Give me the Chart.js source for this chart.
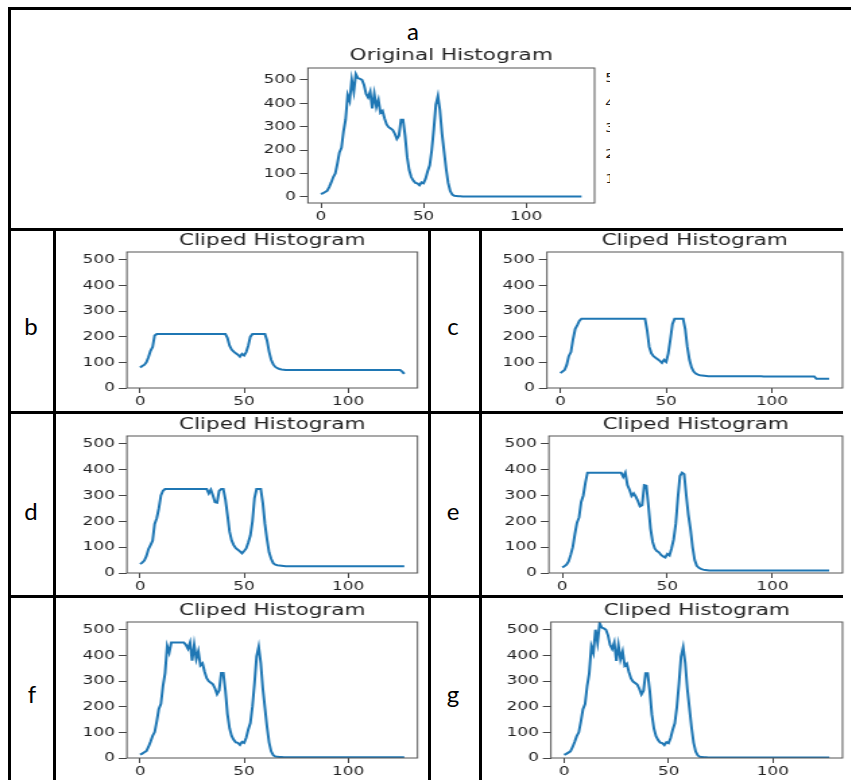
<!DOCTYPE html>
<html>
<head>
<meta charset="utf-8">
<script src="https://cdn.jsdelivr.net/npm/chart.js@4.4.1/dist/chart.umd.min.js"></script>
<style>
  body { margin: 0; background: #fff; width: 851px; height: 780px; position: relative; overflow: hidden; }
  .rule { position: absolute; background: #000; }
  .tag { position: absolute; font-family: Lato, 'Liberation Sans', sans-serif; font-size: 24px; color: #000; transform: translate(-50%, -50%); }
  .cut { position: absolute; left: 605px; top: 60px; width: 5px; height: 130px; overflow: hidden; }
  .cut span { position: absolute; left: 0; font-family: 'DejaVu Sans'; font-size: 12.5px; color: #222; transform: translateY(-50%) scaleX(1.35); transform-origin: left center; }
  canvas { position: absolute; }
</style>
</head>
<body>

<!-- table rules -->
<div class="rule" style="left:8px;top:7px;width:843px;height:3px"></div>
<div class="rule" style="left:8px;top:7px;width:3px;height:773px"></div>
<div class="rule" style="left:8px;top:228px;width:835px;height:3px"></div>
<div class="rule" style="left:8px;top:411px;width:835px;height:3px"></div>
<div class="rule" style="left:8px;top:595px;width:835px;height:3px"></div>
<div class="rule" style="left:53px;top:228px;width:3px;height:552px"></div>
<div class="rule" style="left:428px;top:228px;width:3px;height:552px"></div>
<div class="rule" style="left:479px;top:228px;width:3px;height:552px"></div>

<div class="tag" style="left:413px;top:30px">a</div>
<div class="tag" style="left:31px;top:325px">b</div>
<div class="tag" style="left:453px;top:325px">c</div>
<div class="tag" style="left:31px;top:510px">d</div>
<div class="tag" style="left:453px;top:510px">e</div>
<div class="tag" style="left:32px;top:693px">f</div>
<div class="tag" style="left:453px;top:693px">g</div>

<!-- clipped tick labels of the neighbouring subplot -->
<div class="cut">
  <span style="top:17px">500</span>
  <span style="top:42px">400</span>
  <span style="top:67px">300</span>
  <span style="top:93px">200</span>
  <span style="top:118px">100</span>
</div>

<canvas id="pa"></canvas>
<canvas id="pb"></canvas>
<canvas id="pc"></canvas>
<canvas id="pd"></canvas>
<canvas id="pe"></canvas>
<canvas id="pf"></canvas>
<canvas id="pg"></canvas>

<script>
const xTicks = [0, 50, 100];
const yTicks = [0, 100, 200, 300, 400, 500];
const titles = ['Original Histogram', 'Cliped Histogram'];

// a: original histogram (128 bins)
const originalHist = [
  12, 16, 21, 26, 42, 62, 85, 100, 142, 190, 210, 280, 330, 435, 410, 500,
  450, 525, 508, 505, 500, 478, 440, 425, 450, 378, 440, 385, 415, 360, 368, 335,
  310, 298, 292, 286, 270, 248, 262, 330, 330, 262, 170, 115, 85, 70, 60, 58,
  50, 62, 58, 78, 110, 135, 200, 290, 395, 432, 370, 270, 195, 120, 60, 25,
  10, 5, 4, 3, 3, 2, 2, 2, 2, 2, 2, 2, 2, 2, 2, 2,
  2, 2, 2, 2, 2, 2, 2, 2, 2, 2, 2, 2, 2, 2, 2, 2,
  2, 2, 2, 2, 2, 2, 2, 2, 2, 2, 2, 2, 2, 2, 2, 2,
  2, 2, 2, 2, 2, 2, 2, 2, 2, 2, 2, 2, 2, 2, 2, 2
];

// b: clipped at ~210
const clipB = [
  80, 86, 90, 100, 120, 145, 160, 205, 210, 210, 210, 210, 210, 210, 210, 210,
  210, 210, 210, 210, 210, 210, 210, 210, 210, 210, 210, 210, 210, 210, 210, 210,
  210, 210, 210, 210, 210, 210, 210, 210, 210, 210, 195, 165, 150, 142, 135, 130,
  122, 133, 127, 140, 165, 200, 210, 210, 210, 210, 210, 210, 210, 185, 142, 110,
  92, 82, 77, 74, 72, 71, 70, 70, 70, 70, 70, 70, 70, 70, 70, 70,
  70, 70, 70, 70, 70, 70, 70, 70, 70, 70, 70, 70, 70, 70, 70, 70,
  70, 70, 70, 70, 70, 70, 70, 70, 70, 70, 70, 70, 70, 70, 70, 70,
  70, 70, 70, 70, 70, 70, 70, 70, 70, 70, 70, 70, 70, 70, 64, 55
];

// c: clipped at ~270
const clipC = [
  58, 64, 70, 90, 125, 140, 190, 230, 245, 262, 270, 270, 270, 270, 270, 270,
  270, 270, 270, 270, 270, 270, 270, 270, 270, 270, 270, 270, 270, 270, 270, 270,
  270, 270, 270, 270, 270, 270, 270, 270, 270, 225, 160, 135, 124, 118, 112, 106,
  98, 110, 102, 135, 190, 250, 270, 270, 270, 270, 270, 230, 160, 110, 80, 64,
  56, 52, 50, 49, 48, 47, 46, 46, 46, 46, 46, 46, 46, 46, 46, 46,
  46, 46, 46, 46, 46, 46, 46, 46, 46, 46, 46, 46, 46, 46, 46, 46,
  45, 45, 45, 45, 45, 45, 45, 45, 45, 45, 45, 45, 45, 45, 45, 45,
  45, 45, 45, 45, 45, 45, 45, 45, 45, 36, 36, 36, 36, 36, 36, 36
];

// d: clipped at ~325
const clipD = [
  35, 40, 48, 65, 92, 108, 125, 190, 212, 250, 300, 318, 325, 325, 325, 325,
  325, 325, 325, 325, 325, 325, 325, 325, 325, 325, 325, 325, 325, 325, 325, 325,
  325, 308, 322, 300, 274, 272, 318, 325, 325, 285, 225, 160, 126, 108, 96, 90,
  84, 76, 85, 95, 118, 145, 200, 290, 325, 325, 325, 270, 190, 130, 80, 55,
  38, 32, 30, 29, 28, 27, 26, 26, 26, 26, 26, 26, 26, 26, 26, 26,
  26, 26, 26, 26, 26, 26, 26, 26, 26, 26, 26, 26, 26, 26, 26, 26,
  26, 26, 26, 26, 26, 26, 26, 26, 26, 26, 26, 26, 26, 26, 26, 26,
  26, 26, 26, 26, 26, 26, 26, 26, 26, 26, 26, 26, 26, 26, 26, 26
];

// e: clipped at ~388
const clipE = [
  22, 26, 32, 45, 70, 100, 150, 195, 215, 275, 300, 350, 388, 388, 388, 388,
  388, 388, 388, 388, 388, 388, 388, 388, 388, 388, 388, 388, 388, 372, 388, 340,
  322, 298, 308, 295, 278, 258, 262, 340, 338, 260, 172, 120, 95, 85, 80, 70,
  64, 60, 74, 68, 95, 130, 190, 290, 375, 388, 382, 300, 225, 170, 100, 50,
  28, 20, 16, 13, 12, 11, 10, 10, 10, 10, 10, 10, 10, 10, 10, 10,
  10, 10, 10, 10, 10, 10, 10, 10, 10, 10, 10, 10, 10, 10, 10, 10,
  10, 10, 10, 10, 10, 10, 10, 10, 10, 10, 10, 10, 10, 10, 10, 10,
  10, 10, 10, 10, 10, 10, 10, 10, 10, 10, 10, 10, 10, 10, 10, 10
];

// f: clipped at ~450
const clipF = [
  13, 17, 22, 27, 43, 63, 86, 101, 143, 191, 211, 281, 331, 436, 411, 450,
  450, 450, 450, 450, 450, 450, 441, 426, 450, 379, 441, 386, 416, 361, 369, 336,
  311, 299, 293, 287, 271, 249, 263, 331, 331, 263, 171, 116, 86, 71, 61, 59,
  51, 63, 59, 79, 111, 136, 201, 291, 396, 433, 371, 271, 196, 121, 61, 26,
  11, 6, 5, 4, 4, 3, 3, 3, 3, 3, 3, 3, 3, 3, 3, 3,
  3, 3, 3, 3, 3, 3, 3, 3, 3, 3, 3, 3, 3, 3, 3, 3,
  3, 3, 3, 3, 3, 3, 3, 3, 3, 3, 3, 3, 3, 3, 3, 3,
  3, 3, 3, 3, 3, 3, 3, 3, 3, 3, 3, 3, 3, 3, 3, 3
];

// g: clip above the peak, same as original
const clipG = [
  12, 16, 21, 26, 42, 62, 85, 100, 142, 190, 210, 280, 330, 435, 410, 500,
  450, 525, 508, 505, 500, 478, 440, 425, 450, 378, 440, 385, 415, 360, 368, 335,
  310, 298, 292, 286, 270, 248, 262, 330, 330, 262, 170, 115, 85, 70, 60, 58,
  50, 62, 58, 78, 110, 135, 200, 290, 395, 432, 370, 270, 195, 120, 60, 25,
  10, 5, 4, 3, 3, 2, 2, 2, 2, 2, 2, 2, 2, 2, 2, 2,
  2, 2, 2, 2, 2, 2, 2, 2, 2, 2, 2, 2, 2, 2, 2, 2,
  2, 2, 2, 2, 2, 2, 2, 2, 2, 2, 2, 2, 2, 2, 2, 2,
  2, 2, 2, 2, 2, 2, 2, 2, 2, 2, 2, 2, 2, 2, 2, 2
];

// the source figure is stretched sideways, so canvases are drawn narrow and widened by css
const S = 1.35;
const titleSize = 16;
const tickFont = { family: 'DejaVu Sans', size: 12.5 };
const ink = '#222';

const frame = {
  id: 'frame',
  afterDatasetsDraw(chart) {
    const { ctx, chartArea: a } = chart;
    ctx.save();
    ctx.strokeStyle = '#555';
    ctx.lineWidth = 1;
    ctx.strokeRect(a.left, a.top, a.right - a.left, a.bottom - a.top);
    ctx.restore();
  }
};

function panel(id, box, plot, titleY, values, yMin, yMax, title) {
  const [bl, bt, bw, bh] = box;
  const [pL, pT, pR, pB] = plot;
  const W = Math.round(bw / S);
  const cv = document.getElementById(id);
  cv.width = W;
  cv.height = bh;
  cv.style.left = bl + 'px';
  cv.style.top = bt + 'px';
  cv.style.width = bw + 'px';
  cv.style.height = bh + 'px';

  const left = (pL - bl) / S;
  const right = W - (pR - bl) / S;
  const top = pT - bt;
  const bottom = bt + bh - pB;
  const lineH = titleSize * 1.2;
  const tc = titleY - bt;

  new Chart(cv, {
    type: 'line',
    data: {
      datasets: [{
        data: values.map((v, i) => ({ x: i, y: v })),
        borderColor: '#1f77b4',
        borderWidth: 2,
        pointRadius: 0,
        tension: 0,
        fill: false
      }]
    },
    options: {
      responsive: false,
      animation: false,
      devicePixelRatio: 1,
      layout: { padding: { left: 0, right: right, top: tc - lineH / 2, bottom: 0 } },
      plugins: {
        legend: { display: false },
        tooltip: { enabled: false },
        title: {
          display: true,
          text: title,
          fullSize: false,
          color: ink,
          font: { family: 'DejaVu Sans', size: titleSize, weight: 'normal' },
          padding: { top: 0, bottom: top - tc - lineH / 2 }
        }
      },
      scales: {
        x: {
          type: 'linear',
          min: -6.35,
          max: 133.35,
          afterBuildTicks: s => { s.ticks = xTicks.map(v => ({ value: v })); },
          afterFit: s => { s.height = bottom; },
          border: { display: false },
          grid: { drawOnChartArea: false, drawTicks: true, tickLength: 5, color: '#444' },
          ticks: { font: tickFont, color: ink, padding: 1, maxRotation: 0, autoSkip: false }
        },
        y: {
          type: 'linear',
          min: yMin,
          max: yMax,
          afterBuildTicks: s => { s.ticks = yTicks.map(v => ({ value: v })); },
          afterFit: s => { s.width = left; },
          border: { display: false },
          grid: { drawOnChartArea: false, drawTicks: true, tickLength: 6, color: '#444' },
          ticks: { font: tickFont, color: ink, padding: 3, autoSkip: false }
        }
      }
    },
    plugins: [frame]
  });
}

panel('pa', [240, 36, 360, 190], [308, 68, 595, 203], 56, originalHist, -26, 551, titles[0]);
panel('pb', [58, 231, 368, 179], [127, 252, 418, 388], 241, clipB, 0, 530, titles[1]);
panel('pc', [484, 231, 364, 179], [547, 252, 843, 388], 241, clipC, 0, 530, titles[1]);
panel('pd', [58, 414, 368, 180], [127, 436, 418, 573], 425, clipD, 0, 530, titles[1]);
panel('pe', [484, 414, 364, 180], [549, 436, 843, 573], 425, clipE, 0, 530, titles[1]);
panel('pf', [58, 598, 368, 182], [127, 622, 418, 758], 611, clipF, 0, 530, titles[1]);
panel('pg', [484, 598, 364, 182], [551, 622, 843, 758], 611, clipG, 0, 530, titles[1]);
</script>
</body>
</html>
